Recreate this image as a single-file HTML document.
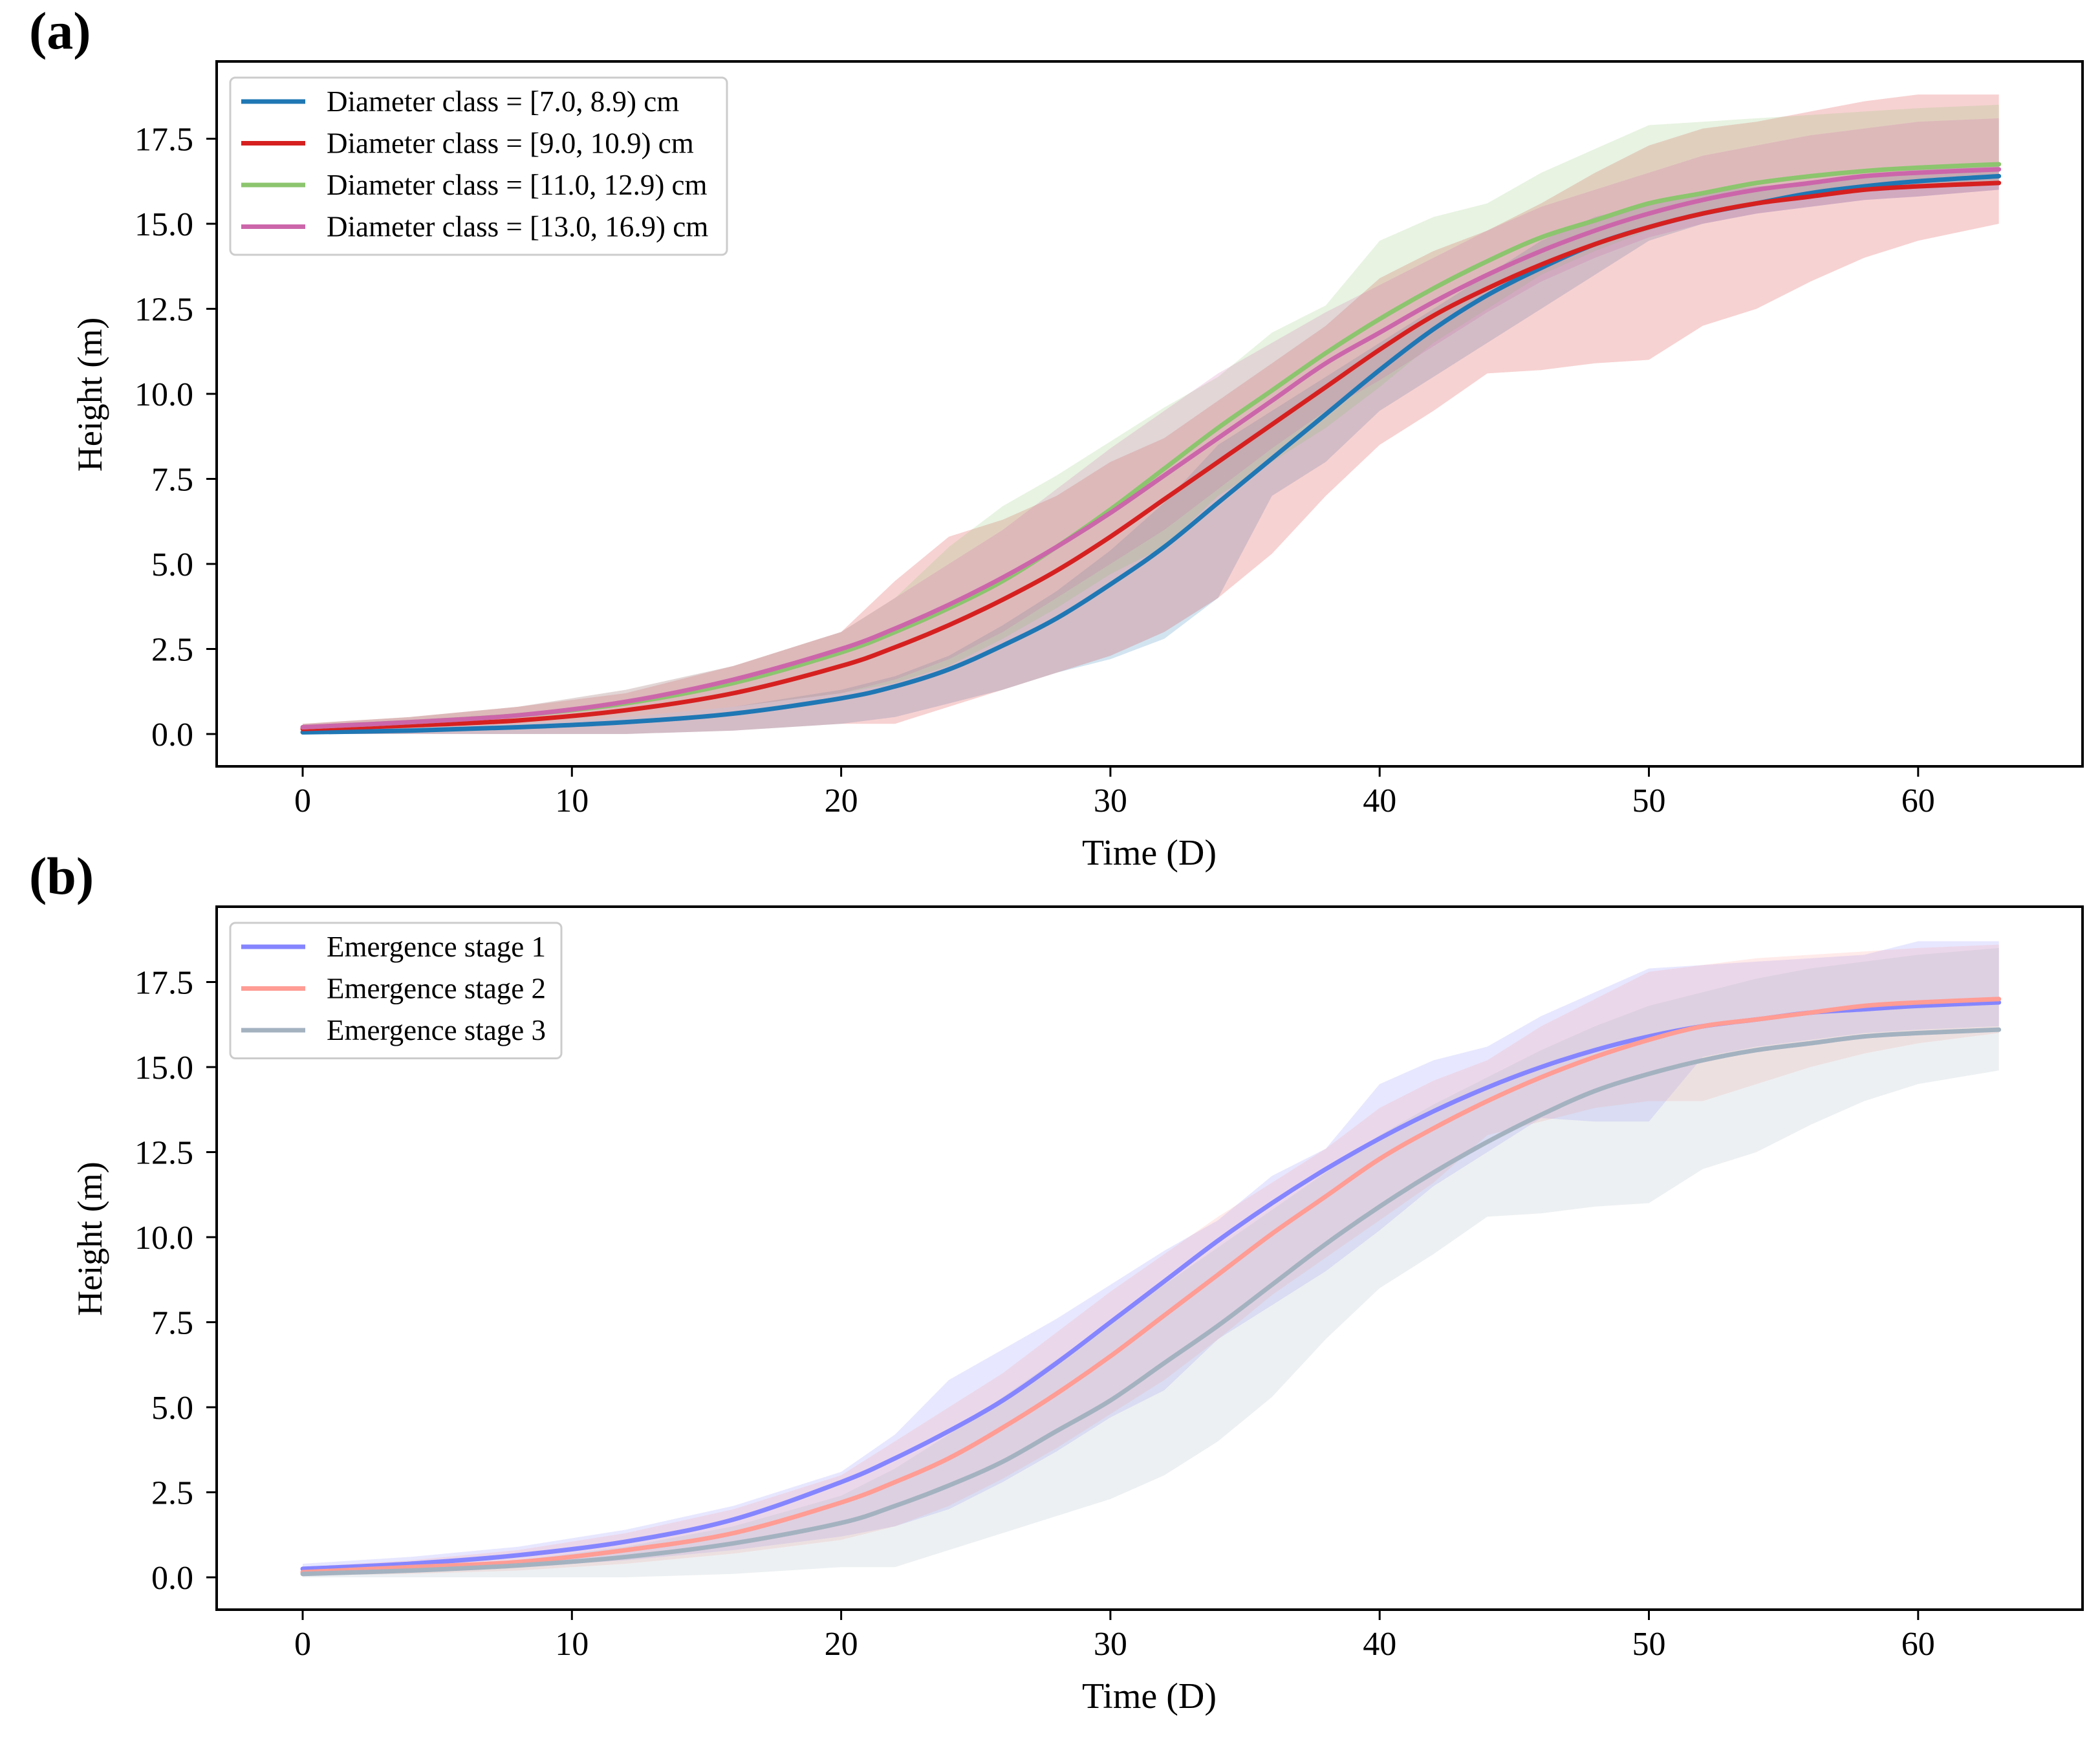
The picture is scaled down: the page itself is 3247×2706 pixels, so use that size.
<!DOCTYPE html>
<html><head><meta charset="utf-8"><style>
html,body{margin:0;padding:0;background:#fff;}
svg{display:block;font-family:"Liberation Serif",serif;}
</style></head><body>
<svg id="fig" width="3247" height="2706" viewBox="0 0 3247 2706" xmlns="http://www.w3.org/2000/svg">
<rect width="3247" height="2706" fill="#fff"/>
</svg>
<script>
const xs = [0,4,8,12,16,20,22,24,26,28,30,32,34,36,38,40,42,44,46,48,50,52,54,56,58,60,63];
const xTicks = [0,10,20,30,40,50,60];
const yTicks = [0,2.5,5,7.5,10,12.5,15,17.5];
const yTickLabels = ["0.0","2.5","5.0","7.5","10.0","12.5","15.0","17.5"];

const aBlueMean  = [0.05,0.1,0.2,0.35,0.6,1.05,1.4,1.9,2.6,3.4,4.4,5.5,6.8,8.1,9.4,10.7,11.9,12.9,13.7,14.4,14.9,15.3,15.6,15.9,16.1,16.25,16.4];
const aBlueLow   = [0,0,0,0,0.1,0.3,0.5,0.9,1.3,1.8,2.2,2.8,4.0,7.0,8.0,9.5,10.5,11.5,12.5,13.5,14.5,15.0,15.3,15.5,15.7,15.8,16.0];
const aBlueHigh  = [0.1,0.2,0.3,0.5,0.8,1.3,1.7,2.3,3.2,4.2,5.4,6.8,8.5,9.5,10.5,11.5,12.5,13.5,14.5,15.2,15.6,15.9,16.1,16.2,16.4,16.6,16.8];
const aRedMean   = [0.15,0.25,0.4,0.7,1.2,2.0,2.55,3.2,3.95,4.8,5.8,6.9,8.0,9.1,10.2,11.3,12.3,13.1,13.8,14.4,14.9,15.3,15.6,15.8,16.0,16.1,16.2];
const aRedLow    = [0,0,0,0,0.1,0.3,0.3,0.8,1.3,1.8,2.3,3.0,4.0,5.3,7.0,8.5,9.5,10.6,10.7,10.9,11.0,12.0,12.5,13.3,14.0,14.5,15.0];
const aRedHigh   = [0.3,0.5,0.8,1.2,2.0,3.0,4.5,5.8,6.3,7.0,8.0,8.7,9.8,10.9,12.0,13.4,14.2,14.8,15.6,16.5,17.3,17.8,18.0,18.3,18.6,18.8,18.8];
const aGreenMean = [0.2,0.35,0.55,0.9,1.5,2.4,3.0,3.7,4.5,5.5,6.6,7.8,9.0,10.1,11.2,12.2,13.1,13.9,14.6,15.1,15.6,15.9,16.2,16.4,16.55,16.65,16.75];
const aGreenLow  = [0.1,0.2,0.3,0.5,0.8,1.2,1.5,2.0,2.8,3.7,4.7,5.5,7.0,8.0,9.0,10.2,11.5,12.5,13.5,14.2,14.8,15.3,15.6,15.8,16.0,16.1,16.2];
const aGreenHigh = [0.3,0.5,0.8,1.3,2.0,3.0,4.0,5.5,6.7,7.6,8.6,9.6,10.5,11.8,12.6,14.5,15.2,15.6,16.5,17.2,17.9,18.0,18.1,18.2,18.3,18.4,18.5];
const aPinkMean  = [0.2,0.35,0.55,0.95,1.6,2.5,3.1,3.8,4.6,5.5,6.5,7.6,8.7,9.8,10.9,11.8,12.7,13.5,14.2,14.8,15.3,15.7,16.0,16.2,16.4,16.5,16.6];
const aPinkLow   = [0.1,0.2,0.3,0.5,0.8,1.2,1.6,2.2,3.0,4.0,5.0,6.0,7.2,8.4,9.5,10.4,11.4,12.4,13.3,14.0,14.6,15.0,15.3,15.5,15.7,15.8,16.0];
const aPinkHigh  = [0.3,0.5,0.8,1.3,2.0,3.0,4.0,5.0,6.0,7.2,8.4,9.5,10.6,11.5,12.4,13.2,14.0,14.8,15.5,16.0,16.5,17.0,17.3,17.6,17.8,18.0,18.1];

const bS1Mean = [0.25,0.4,0.65,1.05,1.7,2.8,3.5,4.3,5.2,6.3,7.5,8.7,9.9,11.0,12.0,12.9,13.7,14.4,15.0,15.5,15.9,16.2,16.4,16.6,16.7,16.8,16.9];
const bS1Low  = [0.1,0.2,0.3,0.5,0.8,1.2,1.5,2.0,2.8,3.7,4.7,5.5,7.0,8.0,9.0,10.2,11.5,12.5,13.5,13.4,13.4,15.3,15.6,15.8,16.0,16.1,16.2];
const bS1High = [0.4,0.6,0.9,1.4,2.1,3.1,4.2,5.8,6.7,7.6,8.6,9.6,10.5,11.8,12.6,14.5,15.2,15.6,16.5,17.2,17.9,18.0,18.1,18.2,18.3,18.7,18.7];
const bS2Mean = [0.15,0.3,0.45,0.8,1.3,2.2,2.8,3.5,4.4,5.4,6.5,7.7,8.9,10.1,11.2,12.3,13.2,14.0,14.7,15.3,15.8,16.2,16.4,16.6,16.8,16.9,17.0];
const bS2Low  = [0.05,0.1,0.2,0.4,0.7,1.1,1.5,2.1,2.9,3.8,4.8,5.8,7.0,8.3,9.4,10.5,11.6,13.0,13.4,13.8,14.0,14.0,14.5,15.0,15.4,15.7,16.0];
const bS2High = [0.3,0.5,0.8,1.3,2.0,3.0,4.0,5.0,6.0,7.2,8.4,9.5,10.6,11.6,12.6,13.8,14.6,15.2,16.2,17.0,17.8,18.0,18.2,18.3,18.4,18.5,18.6];
const bS3Mean = [0.1,0.2,0.35,0.6,1.0,1.6,2.1,2.7,3.4,4.3,5.2,6.3,7.4,8.6,9.8,10.9,11.9,12.8,13.6,14.3,14.8,15.2,15.5,15.7,15.9,16.0,16.1];
const bS3Low  = [0,0,0,0,0.1,0.3,0.3,0.8,1.3,1.8,2.3,3.0,4.0,5.3,7.0,8.5,9.5,10.6,10.7,10.9,11.0,12.0,12.5,13.3,14.0,14.5,14.9];
const bS3High = [0.2,0.3,0.5,0.9,1.5,2.4,3.2,4.2,5.3,6.4,7.5,8.6,9.7,10.8,11.9,13.0,13.9,14.7,15.5,16.2,16.8,17.2,17.6,17.9,18.1,18.3,18.5];

const NS="http://www.w3.org/2000/svg";
const svg=document.getElementById('fig');
function mk(tag,attrs,parent){const e=document.createElementNS(NS,tag);for(const k in attrs)e.setAttribute(k,attrs[k]);(parent||svg).appendChild(e);return e;}

const L=335,R=3220;
function panel(cfg){
  const g=mk('g',{});
  
  
  const xS=v=>468+41.63*v;
  const yS=v=>cfg.y0-52.6*v;
  cfg.series.forEach(s=>{
    let d='';
    xs.forEach((x,i)=>{d+=(i?'L':'M')+xS(x).toFixed(1)+','+yS(s.high[i]).toFixed(1);});
    for(let i=xs.length-1;i>=0;i--)d+='L'+xS(xs[i]).toFixed(1)+','+yS(s.low[i]).toFixed(1);
    const p=mk('path',{d:d+'Z',fill:s.color,'fill-opacity':0.2,stroke:'none'},g);
    
    
  });
  cfg.series.forEach(s=>{
    const pts=xs.map((x,i)=>[xS(x),yS(s.mean[i])]);
    let d='M'+pts[0][0]+','+pts[0][1];
    for(let i=0;i<pts.length-1;i++){
      const p0=pts[Math.max(0,i-1)],p1=pts[i],p2=pts[i+1],p3=pts[Math.min(pts.length-1,i+2)];
      const c1=[p1[0]+(p2[0]-p0[0])/6,p1[1]+(p2[1]-p0[1])/6];
      const c2=[p2[0]-(p3[0]-p1[0])/6,p2[1]-(p3[1]-p1[1])/6];
      d+='C'+c1.join(',')+' '+c2.join(',')+' '+p2.join(',');
    }
    const p=mk('path',{d:d,fill:'none',stroke:s.color,'stroke-width':7,'stroke-linecap':'round'},g);
    
    
  });
  const fr=mk('rect',{x:L,y:cfg.top,width:R-L,height:cfg.bottom-cfg.top,fill:'none',stroke:'#000','stroke-width':4},g);
  
  
  xTicks.forEach(t=>{
    mk('line',{x1:xS(t),x2:xS(t),y1:cfg.bottom,y2:cfg.bottom+16,stroke:'#000','stroke-width':3},g);
    const tx=mk('text',{x:xS(t),y:cfg.bottom+70,'text-anchor':'middle','font-size':52},g);
    tx.textContent=t;
    
    
  });
  yTicks.forEach((t,i)=>{
    mk('line',{x1:L,x2:L-16,y1:yS(t),y2:yS(t),stroke:'#000','stroke-width':3},g);
    const tx=mk('text',{x:L-36,y:yS(t)+18,'text-anchor':'end','font-size':52},g);
    tx.textContent=yTickLabels[i];
    
    
  });
  const xt=mk('text',{x:1777,y:cfg.bottom+152,'text-anchor':'middle','font-size':56},g);
  xt.textContent='Time (D)';
  
  
  const cy=(cfg.top+cfg.bottom)/2-30;
  const yt=mk('text',{x:157,y:cy,'text-anchor':'middle','font-size':54,transform:'rotate(-90 157 '+cy+')'},g);
  yt.textContent='Height (m)';
  
  
  const pl=mk('text',{x:45,y:cfg.top-20,'font-size':82,'font-weight':'bold'},g);
  pl.textContent=cfg.label;
  
  
  const lg=mk('g',{},g);
  
  
  mk('rect',{x:356,y:cfg.top+25,width:cfg.legW,height:cfg.series.length*64.5+16,rx:8,fill:'#fff','fill-opacity':0.85,stroke:'#ccc','stroke-width':3},lg);
  cfg.series.forEach((s,i)=>{
    const ly=cfg.top+62+i*64.5;
    mk('line',{x1:373,x2:472,y1:ly,y2:ly,stroke:s.color,'stroke-width':7},lg);
    const t=mk('text',{x:505,y:ly+15,'font-size':45},lg);
    t.textContent=s.label;
    
    
  });
}
panel({name:'panel-a',label:'(a)',top:95,bottom:1185,y0:1135,legW:768,series:[
  {key:'diam-7-8.9',label:'Diameter class = [7.0, 8.9) cm',color:'#1f77b4',mean:aBlueMean,low:aBlueLow,high:aBlueHigh},
  {key:'diam-9-10.9',label:'Diameter class = [9.0, 10.9) cm',color:'#d62020',mean:aRedMean,low:aRedLow,high:aRedHigh},
  {key:'diam-11-12.9',label:'Diameter class = [11.0, 12.9) cm',color:'#8cc56e',mean:aGreenMean,low:aGreenLow,high:aGreenHigh},
  {key:'diam-13-16.9',label:'Diameter class = [13.0, 16.9) cm',color:'#cc66aa',mean:aPinkMean,low:aPinkLow,high:aPinkHigh}
]});
panel({name:'panel-b',label:'(b)',top:1402,bottom:2489,y0:2439,legW:512,series:[
  {key:'stage-1',label:'Emergence stage 1',color:'#8585ff',mean:bS1Mean,low:bS1Low,high:bS1High},
  {key:'stage-2',label:'Emergence stage 2',color:'#ff9c94',mean:bS2Mean,low:bS2Low,high:bS2High},
  {key:'stage-3',label:'Emergence stage 3',color:'#a4b2c0',mean:bS3Mean,low:bS3Low,high:bS3High}
]});
</script>
</body></html>
